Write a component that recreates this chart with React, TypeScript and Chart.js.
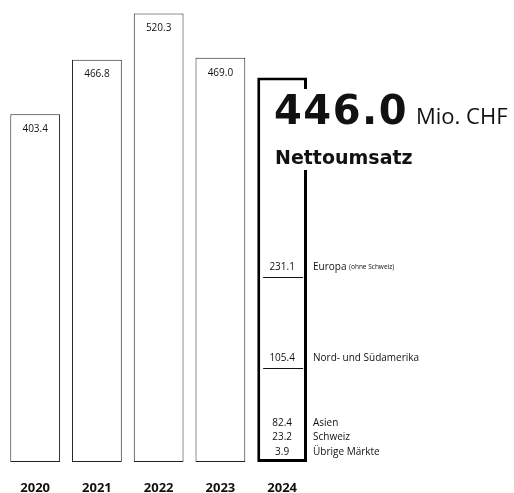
import { useEffect, useRef } from "react";
import { Chart, registerables } from "chart.js";

Chart.register(...registerables);

const years = ["2020", "2021", "2022", "2023", "2024"];
const totals = [403.4, 466.8, 520.3, 469.0, 446.0];
const valueLabels = ["403.4", "466.8", "520.3", "469.0", "446.0"];
// 2024 breakdown, bottom to top
const regionNames = ["Übrige Märkte", "Schweiz", "Asien", "Nord- und Südamerika", "Europa"];
const regionNotes = ["", "", "", "", "(ohne Schweiz)"];
const regionValues = [3.9, 23.2, 82.4, 105.4, 231.1];
const regionLabels = ["3.9", "23.2", "82.4", "105.4", "231.1"];
const dividerAfter = [2, 3];
const headlineValue = "446.0";
const headlineUnit = "Mio. CHF";
const headlineTitle = "Nettoumsatz";

const SANS = "'Open Sans', sans-serif";
const HEAVY = "'DejaVu Sans', sans-serif";

const overlayPlugin = {
  id: "overlay",
  afterDatasetsDraw(chart: any) {
    const ctx = chart.ctx;
    const meta = chart.getDatasetMeta(0);
    const y = chart.scales.y;
    const last = meta.data.length - 1;
    ctx.save();
    ctx.fillStyle = "#111";
    ctx.textAlign = "center";
    ctx.textBaseline = "middle";
    ctx.font = `400 10px ${SANS}`;
    // value labels inside the first bars
    for (let i = 0; i < last; i++) {
      const bar = meta.data[i];
      ctx.fillText(valueLabels[i], bar.x, bar.y + 15);
    }
    // 2024 breakdown
    const bar = meta.data[last];
    const bx = bar.x;
    const bottom = y.getPixelForValue(0);
    const cum: number[] = [];
    let s = 0;
    for (const v of regionValues) {
      s += v;
      cum.push(s);
    }
    ctx.strokeStyle = "#111";
    ctx.lineWidth = 1;
    for (const k of dividerAfter) {
      const ly = Math.round(y.getPixelForValue(cum[k])) + 0.5;
      ctx.beginPath();
      ctx.moveTo(bx - 19, ly);
      ctx.lineTo(bx + 21, ly);
      ctx.stroke();
    }
    const labelYs: number[] = [];
    labelYs[0] = bottom - 10;
    labelYs[1] = bottom - 25;
    labelYs[2] = bottom - 39;
    labelYs[3] = y.getPixelForValue(cum[2]) - 9;
    labelYs[4] = y.getPixelForValue(cum[3]) - 10;
    for (let i = 0; i < regionValues.length; i++) {
      ctx.textAlign = "center";
      ctx.font = `400 10px ${SANS}`;
      ctx.fillText(regionLabels[i], bx, labelYs[i]);
      ctx.textAlign = "left";
      ctx.fillText(regionNames[i], 313, labelYs[i]);
      if (regionNotes[i]) {
        const w = ctx.measureText(regionNames[i] + " ").width;
        ctx.font = `400 6.5px ${SANS}`;
        ctx.fillText(regionNotes[i], 313 + w, labelYs[i] + 0.5);
      }
    }
    // headline with white backing
    ctx.fillStyle = "#fff";
    ctx.fillRect(bx - 18, 89, chart.width - (bx - 18), 81);
    ctx.fillStyle = "#111";
    ctx.textAlign = "left";
    ctx.textBaseline = "alphabetic";
    ctx.font = `700 40px ${HEAVY}`;
    (ctx as any).letterSpacing = "1.5px";
    ctx.fillText(headlineValue, 274, 124);
    const hw = ctx.measureText(headlineValue).width;
    (ctx as any).letterSpacing = "0px";
    ctx.font = `400 22px ${SANS}`;
    ctx.fillText(headlineUnit, 274 + hw + 8, 124);
    ctx.font = `700 19px ${HEAVY}`;
    ctx.fillText(headlineTitle, 275, 164);
    ctx.restore();
  },
};

export default function App() {
  const ref = useRef<HTMLCanvasElement>(null);
  useEffect(() => {
    if (!ref.current) return;
    const chart = new Chart(ref.current, {
      type: "bar",
      data: {
        labels: years,
        datasets: [
          {
            label: "Nettoumsatz",
            data: totals,
            backgroundColor: "#ffffff",
            borderColor: ["#222", "#222", "#222", "#222", "#000"],
            borderWidth: [1, 1, 1, 1, 3],
            borderSkipped: false,
            barPercentage: 0.806,
            categoryPercentage: 1,
          },
        ],
      },
      options: {
        responsive: false,
        animation: false,
        layout: { padding: { left: 3, right: 201, top: 0, bottom: 0 } },
        plugins: { legend: { display: false }, tooltip: { enabled: false } },
        scales: {
          x: {
            grid: { display: false, drawTicks: false },
            border: { display: false },
            ticks: {
              color: "#111",
              padding: 20,
              font: { family: SANS, size: 13, weight: "bold", lineHeight: 1 },
            },
          },
          y: {
            display: false,
            min: 0,
            max: 536,
          },
        },
      },
      plugins: [overlayPlugin],
    });
    return () => chart.destroy();
  }, []);
  return (
    <div style={{ position: "absolute", left: 0, top: 0, width: 514, height: 493, overflow: "hidden", background: "#fff" }}>
      <canvas ref={ref} width={514} height={515} />
    </div>
  );
}
